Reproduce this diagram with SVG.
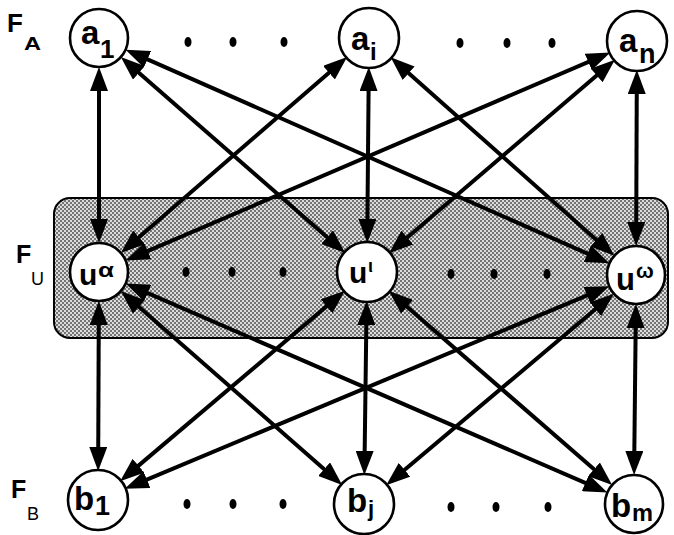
<svg xmlns="http://www.w3.org/2000/svg" width="674" height="535" viewBox="0 0 674 535">
<style>
.node circle{fill:#fff;stroke:#000;stroke-width:2.6}
.lbl{font-family:"Liberation Sans",Arial,sans-serif;font-weight:bold;fill:#000}
.reg{font-family:"Liberation Sans",Arial,sans-serif;font-weight:normal;fill:#000}
.edge{stroke:#000;stroke-width:4;fill:none;marker-start:url(#ah);marker-end:url(#ah)}
.dot{fill:#000}
</style>
<defs>
<marker id="ah" viewBox="0 0 24 18" refX="13" refY="9" markerWidth="24" markerHeight="18" markerUnits="userSpaceOnUse" orient="auto-start-reverse"><path d="M0,0 L24,9 L0,18 z" fill="#000"/></marker>
<pattern id="dots" width="4" height="4" patternUnits="userSpaceOnUse"><rect width="4" height="4" fill="#dcdcdc"/><rect x="0" y="0" width="2" height="2" fill="#747474"/><rect x="2" y="2" width="2" height="2" fill="#747474"/></pattern>
</defs>
<rect id="FU-band" x="54" y="198" width="614" height="140" rx="16" fill="url(#dots)" stroke="#000" stroke-width="2"/>
<g id="layer-labels">
<text class="lbl" x="7" y="32" font-size="26">F</text><text class="lbl" x="24" y="50" font-size="18" textLength="17" lengthAdjust="spacingAndGlyphs">A</text>
<text class="lbl" x="16" y="263" font-size="25">F</text><text class="reg" x="31" y="285" font-size="18">U</text>
<text class="lbl" x="11" y="498" font-size="25">F</text><text class="reg" x="27" y="520" font-size="18">B</text>
</g>
<g id="connectors">
<line class="edge" x1="99" y1="78" x2="99" y2="232"/>
<line class="edge" x1="129.1" y1="64.3" x2="336.9" y2="245.7"/>
<line class="edge" x1="135.6" y1="54.1" x2="599.4" y2="258.9"/>
<line class="edge" x1="338.8" y1="64.2" x2="129.2" y2="245.8"/>
<line class="edge" x1="368.7" y1="78" x2="367.3" y2="232"/>
<line class="edge" x1="398.9" y1="64.6" x2="606.1" y2="248.4"/>
<line class="edge" x1="600.2" y1="56.8" x2="135.8" y2="256.2"/>
<line class="edge" x1="606.6" y1="67" x2="397.4" y2="246"/>
<line class="edge" x1="636.8" y1="81" x2="636.2" y2="235"/>
<line class="edge" x1="98.8" y1="312" x2="98.2" y2="460"/>
<line class="edge" x1="129.1" y1="298.3" x2="333.9" y2="477.7"/>
<line class="edge" x1="135.7" y1="287.9" x2="597.3" y2="488.1"/>
<line class="edge" x1="336.5" y1="297.9" x2="128.5" y2="474.1"/>
<line class="edge" x1="366.5" y1="312" x2="364.5" y2="464"/>
<line class="edge" x1="397.2" y1="298.2" x2="603.8" y2="477.8"/>
<line class="edge" x1="599.1" y1="290.4" x2="134.9" y2="484.6"/>
<line class="edge" x1="605.4" y1="300.8" x2="394.6" y2="478.2"/>
<line class="edge" x1="635.8" y1="315" x2="634.2" y2="464"/>
</g>
<g id="a1" class="node"><circle cx="99" cy="38" r="29"/><text class="lbl" x="81" y="44" font-size="33">a</text><text class="lbl" x="100" y="58" font-size="26">1</text></g>
<g id="ai" class="node"><circle cx="369" cy="38" r="30"/><text class="lbl" x="351" y="50" font-size="33">a</text><text class="lbl" x="370" y="60" font-size="24">i</text></g>
<g id="an" class="node"><circle cx="637" cy="41" r="30"/><text class="lbl" x="619" y="52" font-size="33">a</text><text class="lbl" x="639" y="63" font-size="27">n</text></g>
<g id="u-alpha" class="node"><circle cx="99" cy="272" r="29"/><text class="lbl" x="79" y="285" font-size="30">u</text><text class="lbl" x="98" y="277" font-size="20" textLength="16" lengthAdjust="spacingAndGlyphs">α</text></g>
<g id="u-iota" class="node"><circle cx="367" cy="272" r="30"/><text class="lbl" x="349" y="283" font-size="30">u</text><text class="lbl" x="368" y="272" font-size="18">ι</text></g>
<g id="u-omega" class="node"><circle cx="636" cy="275" r="29"/><text class="lbl" x="616" y="290" font-size="31">u</text><text class="lbl" x="636" y="278" font-size="21">ω</text></g>
<g id="b1" class="node"><circle cx="98" cy="500" r="30"/><text class="lbl" x="74" y="510" font-size="33">b</text><text class="lbl" x="95" y="515" font-size="27">1</text></g>
<g id="bj" class="node"><circle cx="364" cy="504" r="30"/><text class="lbl" x="347" y="512" font-size="33">b</text><text class="lbl" x="368" y="516" font-size="22">j</text></g>
<g id="bm" class="node"><circle cx="634" cy="504" r="29"/><text class="lbl" x="611" y="517" font-size="33">b</text><text class="lbl" x="632" y="521" font-size="23" textLength="21" lengthAdjust="spacingAndGlyphs">m</text></g>
<g id="ellipses">
<ellipse class="dot" cx="188" cy="42" rx="3.5" ry="5"/><ellipse class="dot" cx="233" cy="42" rx="3.5" ry="5"/><ellipse class="dot" cx="284" cy="42" rx="3.5" ry="5"/>
<ellipse class="dot" cx="460" cy="43" rx="3.5" ry="5"/><ellipse class="dot" cx="507" cy="43" rx="3.5" ry="5"/><ellipse class="dot" cx="552" cy="43" rx="3.5" ry="5"/>
<ellipse class="dot" cx="186" cy="272" rx="3.5" ry="5"/><ellipse class="dot" cx="232" cy="272" rx="3.5" ry="5"/><ellipse class="dot" cx="283" cy="272" rx="3.5" ry="5"/>
<ellipse class="dot" cx="451" cy="274" rx="3.5" ry="5"/><ellipse class="dot" cx="494" cy="274" rx="3.5" ry="5"/><ellipse class="dot" cx="547" cy="274" rx="3.5" ry="5"/>
<ellipse class="dot" cx="187" cy="504" rx="3.5" ry="5"/><ellipse class="dot" cx="233" cy="504" rx="3.5" ry="5"/><ellipse class="dot" cx="283" cy="504" rx="3.5" ry="5"/>
<ellipse class="dot" cx="451" cy="507" rx="3.5" ry="5"/><ellipse class="dot" cx="496" cy="507" rx="3.5" ry="5"/><ellipse class="dot" cx="548" cy="507" rx="3.5" ry="5"/>
</g>
</svg>
